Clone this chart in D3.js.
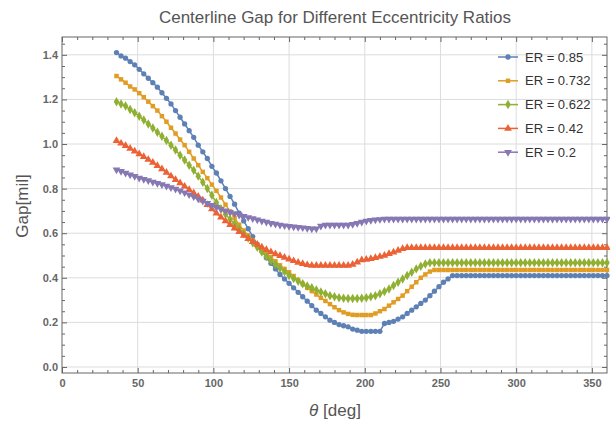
<!DOCTYPE html>
<html>
<head>
<meta charset="utf-8">
<script src="https://cdn.jsdelivr.net/npm/d3@7"></script>
<style>
  body { margin: 0; background: #fff; }
  text { font-family: "Liberation Sans", Arial, sans-serif; }
</style>
</head>
<body>
<div class="chart"></div>
<script>
// shaft angle, deg
var theta = [36,39,42,45,48,51,54,57,60,63,66,69,72,75,78,81,84,87,90,93,
  96,99,102,105,108,111,114,117,120,123,126,129,132,135,138,141,144,147,150,153,
  156,159,162,165,168,171,174,177,180,183,186,189,192,195,198,201,204,207,210,213,
  216,219,222,225,228,231,234,237,240,243,246,249,252,255,258,261,264,267,270,273,
  276,279,282,285,288,291,294,297,300,303,306,309,312,315,318,321,324,327,330,333,
  336,339,342,345,348,351,354,357,360];

// gap [mil], one array per eccentricity ratio
var gap085 = [1.41,1.395,1.385,1.37,1.355,1.335,1.315,1.295,1.275,1.255,
  1.23,1.205,1.18,1.15,1.12,1.09,1.06,1.03,0.995,0.965,
  0.935,0.9,0.87,0.835,0.8,0.765,0.73,0.69,0.655,0.62,
  0.585,0.55,0.52,0.49,0.465,0.44,0.415,0.395,0.375,0.355,
  0.335,0.315,0.295,0.275,0.255,0.24,0.225,0.21,0.2,0.19,
  0.185,0.18,0.17,0.165,0.16,0.16,0.16,0.16,0.16,0.195,
  0.2,0.205,0.215,0.225,0.24,0.255,0.27,0.285,0.3,0.32,
  0.34,0.36,0.38,0.395,0.41,0.41,0.41,0.41,0.41,0.41,
  0.41,0.41,0.41,0.41,0.41,0.41,0.41,0.41,0.41,0.41,
  0.41,0.41,0.41,0.41,0.41,0.41,0.41,0.41,0.41,0.41,
  0.41,0.41,0.41,0.41,0.41,0.41,0.41,0.41,0.41];

var gap0732 = [1.305,1.29,1.275,1.258,1.245,1.228,1.21,1.19,1.17,1.15,
  1.125,1.1,1.073,1.047,1.02,0.995,0.965,0.935,0.905,0.875,
  0.847,0.818,0.79,0.76,0.728,0.698,0.668,0.638,0.612,0.59,
  0.568,0.548,0.528,0.51,0.492,0.474,0.456,0.44,0.425,0.408,
  0.39,0.372,0.355,0.34,0.325,0.31,0.296,0.282,0.268,0.255,
  0.245,0.238,0.234,0.233,0.233,0.233,0.233,0.24,0.25,0.26,
  0.275,0.29,0.305,0.32,0.34,0.36,0.38,0.4,0.415,0.428,
  0.435,0.435,0.435,0.435,0.435,0.435,0.435,0.435,0.435,0.435,
  0.435,0.435,0.435,0.435,0.435,0.435,0.435,0.435,0.435,0.435,
  0.435,0.435,0.435,0.435,0.435,0.435,0.435,0.435,0.435,0.435,
  0.435,0.435,0.435,0.435,0.435,0.435,0.435,0.435,0.435];

var gap0622 = [1.19,1.18,1.17,1.155,1.14,1.125,1.108,1.09,1.072,1.053,
  1.035,1.016,0.995,0.973,0.95,0.928,0.905,0.882,0.856,0.828,
  0.8,0.77,0.738,0.71,0.685,0.663,0.642,0.62,0.598,0.578,
  0.557,0.537,0.516,0.496,0.477,0.46,0.443,0.427,0.41,0.397,
  0.385,0.373,0.363,0.355,0.345,0.336,0.328,0.32,0.315,0.311,
  0.308,0.307,0.307,0.307,0.308,0.31,0.315,0.32,0.328,0.338,
  0.35,0.365,0.38,0.395,0.41,0.425,0.44,0.452,0.462,0.468,
  0.468,0.468,0.468,0.468,0.468,0.468,0.468,0.468,0.468,0.468,
  0.468,0.468,0.468,0.468,0.468,0.468,0.468,0.468,0.468,0.468,
  0.468,0.468,0.468,0.468,0.468,0.468,0.468,0.468,0.468,0.468,
  0.468,0.468,0.468,0.468,0.468,0.468,0.468,0.468,0.468];

var gap042 = [1.015,1.003,0.992,0.98,0.968,0.955,0.943,0.93,0.917,0.903,
  0.888,0.872,0.856,0.84,0.825,0.81,0.795,0.78,0.765,0.748,
  0.728,0.708,0.69,0.672,0.655,0.638,0.622,0.606,0.59,0.575,
  0.562,0.549,0.537,0.526,0.516,0.507,0.499,0.491,0.483,0.476,
  0.469,0.463,0.458,0.455,0.455,0.455,0.455,0.455,0.455,0.455,
  0.455,0.455,0.46,0.47,0.48,0.482,0.485,0.49,0.495,0.5,
  0.508,0.515,0.522,0.53,0.535,0.535,0.535,0.535,0.535,0.535,
  0.535,0.535,0.535,0.535,0.535,0.535,0.535,0.535,0.535,0.535,
  0.535,0.535,0.535,0.535,0.535,0.535,0.535,0.535,0.535,0.535,
  0.535,0.535,0.535,0.535,0.535,0.535,0.535,0.535,0.535,0.535,
  0.535,0.535,0.535,0.535,0.535,0.535,0.535,0.535,0.535];

var gap02 = [0.885,0.878,0.87,0.862,0.855,0.848,0.842,0.836,0.83,0.824,
  0.818,0.812,0.805,0.798,0.79,0.782,0.773,0.764,0.754,0.744,
  0.734,0.725,0.716,0.708,0.701,0.694,0.688,0.682,0.676,0.671,
  0.666,0.66,0.655,0.65,0.645,0.641,0.637,0.634,0.631,0.629,
  0.627,0.625,0.622,0.62,0.62,0.632,0.637,0.637,0.637,0.637,
  0.637,0.637,0.64,0.645,0.65,0.655,0.658,0.66,0.662,0.664,
  0.664,0.664,0.664,0.664,0.664,0.664,0.664,0.664,0.664,0.664,
  0.664,0.664,0.664,0.664,0.664,0.664,0.664,0.664,0.664,0.664,
  0.664,0.664,0.664,0.664,0.664,0.664,0.664,0.664,0.664,0.664,
  0.664,0.664,0.664,0.664,0.664,0.664,0.664,0.664,0.664,0.664,
  0.664,0.664,0.664,0.664,0.664,0.664,0.664,0.664,0.664];

var seriesNames = ["ER = 0.85", "ER = 0.732", "ER = 0.622", "ER = 0.42", "ER = 0.2"];
var seriesValues = [gap085, gap0732, gap0622, gap042, gap02];

var xTicks = [0, 50, 100, 150, 200, 250, 300, 350];
var yTicks = [0.0, 0.2, 0.4, 0.6, 0.8, 1.0, 1.2, 1.4];

var view = {
    width: 610,
    height: 424,
    left: 62, right: 607, top: 37, bottom: 373,
    colors: ["#5E81B5", "#E19C24", "#8FB032", "#EB6235", "#8778B3"],
    init() {
        this.svg = d3.select(".chart")
            .append("svg")
            .attr("width", this.width)
            .attr("height", this.height);

        this.x = d3.scaleLinear().domain([0, 360]).range([this.left, this.right]);
        this.y = d3.scaleLinear().domain([-0.027, 1.48]).range([this.bottom, this.top]);

        //marker shapes, same order as series
        this.symbols = [
            d3.symbol().type(d3.symbolCircle).size(22),
            d3.symbol().type(d3.symbolSquare).size(20),
            d3.symbol().type(d3.symbolDiamond).size(26),
            d3.symbol().type(d3.symbolTriangle).size(26),
            d3.symbol().type(d3.symbolTriangle).size(26)
        ];
        this.rotations = [0, 0, 0, 0, 180];
    },
    drawGrid() {
        var g = this.svg.append("g").attr("stroke", "#dcdcdc").attr("stroke-width", 1);
        g.selectAll(".gx").data(xTicks.filter(d => d > 0)).enter().append("line")
            .attr("x1", d => this.x(d)).attr("x2", d => this.x(d))
            .attr("y1", this.top).attr("y2", this.bottom);
        g.selectAll(".gy").data(yTicks).enter().append("line")
            .attr("x1", this.left).attr("x2", this.right)
            .attr("y1", d => this.y(d)).attr("y2", d => this.y(d));
    },
    drawAxes() {
        var x = this.x, y = this.y;
        var xMinor = d3.range(10, 360, 10).filter(d => d % 50 !== 0);
        var yMinor = d3.range(1, 30).map(d => d * 0.05).filter(d => Math.round(d * 100) % 20 !== 0);

        //bottom + left with labels (ticks point inwards)
        var bottom = this.svg.append("g")
            .attr("transform", "translate(0," + this.bottom + ")")
            .call(d3.axisBottom(x).tickValues(xTicks).tickFormat(d3.format("d")).tickSize(-5).tickPadding(6));
        bottom.append("g").call(d3.axisBottom(x).tickValues(xMinor).tickFormat("").tickSize(-3));

        var left = this.svg.append("g")
            .attr("transform", "translate(" + this.left + ",0)")
            .call(d3.axisLeft(y).tickValues(yTicks).tickFormat(d3.format(".1f")).tickSize(-5).tickPadding(4));
        left.append("g").call(d3.axisLeft(y).tickValues(yMinor).tickFormat("").tickSize(-3));

        //top + right, no labels
        var top = this.svg.append("g")
            .attr("transform", "translate(0," + this.top + ")")
            .call(d3.axisTop(x).tickValues(xTicks).tickFormat("").tickSize(-5));
        top.append("g").call(d3.axisTop(x).tickValues(xMinor).tickFormat("").tickSize(-3));

        var right = this.svg.append("g")
            .attr("transform", "translate(" + this.right + ",0)")
            .call(d3.axisRight(y).tickValues(yTicks).tickFormat("").tickSize(-5));
        right.append("g").call(d3.axisRight(y).tickValues(yMinor).tickFormat("").tickSize(-3));

        this.svg.selectAll(".domain").remove();
        this.svg.selectAll(".tick line").attr("stroke", "#666");
        this.svg.selectAll(".tick text")
            .attr("fill", "#666")
            .style("font-size", "11px")
            .style("font-weight", "bold");

        //frame
        this.svg.append("rect")
            .attr("x", this.left).attr("y", this.top)
            .attr("width", this.right - this.left).attr("height", this.bottom - this.top)
            .attr("fill", "none").attr("stroke", "#666").attr("stroke-width", 1);
    },
    drawSeries() {
        var self = this;
        var line = d3.line().x(d => self.x(d[0])).y(d => self.y(d[1]));
        seriesValues.forEach(function(vals, i) {
            var pts = theta.map((t, j) => [t, vals[j]]);
            self.svg.append("path")
                .datum(pts)
                .attr("fill", "none")
                .attr("stroke", self.colors[i])
                .attr("stroke-width", 1.5)
                .attr("d", line);
            self.svg.append("g").selectAll("path").data(pts).enter().append("path")
                .attr("d", self.symbols[i])
                .attr("fill", self.colors[i])
                .attr("transform", d => "translate(" + self.x(d[0]) + "," + self.y(d[1]) + ") rotate(" + self.rotations[i] + ")");
        });
    },
    drawLegend() {
        var self = this;
        var lg = this.svg.append("g");
        seriesNames.forEach(function(name, i) {
            var cy = 57 + i * 23.8;
            lg.append("line")
                .attr("x1", 498).attr("x2", 518).attr("y1", cy).attr("y2", cy)
                .attr("stroke", self.colors[i]).attr("stroke-width", 1.5);
            lg.append("path")
                .attr("d", self.symbols[i])
                .attr("fill", self.colors[i])
                .attr("transform", "translate(508," + cy + ") rotate(" + self.rotations[i] + ")");
            lg.append("text")
                .attr("x", 525).attr("y", cy).attr("dy", "0.35em")
                .attr("fill", "#333")
                .style("font-size", "13px")
                .text(name);
        });
    },
    drawLabels() {
        this.svg.append("text")
            .attr("x", 335).attr("y", 23)
            .attr("text-anchor", "middle")
            .attr("fill", "#555")
            .style("font-size", "17px")
            .text("Centerline Gap for Different Eccentricity Ratios");

        this.svg.append("text")
            .attr("transform", "translate(28,206) rotate(-90)")
            .attr("text-anchor", "middle")
            .attr("fill", "#555")
            .style("font-size", "17px")
            .text("Gap[mil]");

        var xl = this.svg.append("text")
            .attr("x", 335).attr("y", 416)
            .attr("text-anchor", "middle")
            .attr("fill", "#555")
            .style("font-size", "17px");
        xl.append("tspan").style("font-style", "italic").text("\u03b8");
        xl.append("tspan").text(" [deg]");
    }
};

//Run
view.init();
view.drawGrid();
view.drawAxes();
view.drawSeries();
view.drawLegend();
view.drawLabels();
</script>
</body>
</html>
